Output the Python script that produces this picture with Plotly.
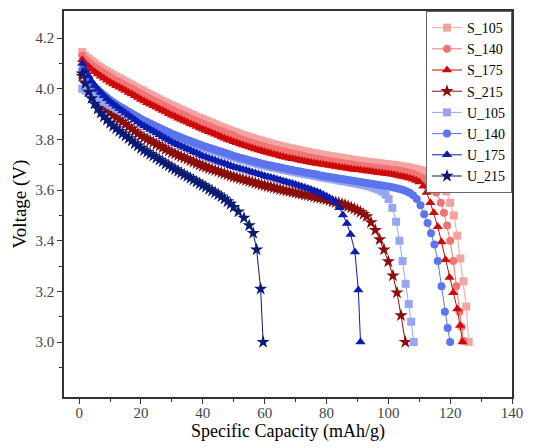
import plotly.graph_objects as go

# ---------------- data ----------------
# shared sampling grid of specific capacity (mAh/g) for the plateau part
cap_grid = [1,2,3,4,5,6,7,8,9,10,11,12,13,14,15,16,17,18,19,20,21,22,23,24,25,26,27,28,29,30,
            31,32,33,34,35,36,37,38,39,40,41,42,43,44,45,46,47,48,49,50,51,52,53,54,55,56,57,58,59,60,
            61,62,63,64,65,66,67,68,69,70,71,72,73,74,75,76,77,78,79,80,81,82,83,84,85,86,87,88,89,90,
            91,92,93,94,95,96,97,98,99,100,101,102,103,104,105,106,107,108,109,110,111,112,113,114,115,116]

s105_v = [4.145,4.130,4.120,4.110,4.101,4.092,4.084,4.076,4.069,4.062,4.055,4.048,4.042,4.035,4.029,4.022,4.016,4.009,4.002,3.996,
          3.990,3.983,3.977,3.971,3.965,3.958,3.952,3.946,3.940,3.934,3.929,3.923,3.918,3.912,3.907,3.901,3.896,3.890,3.885,3.880,
          3.875,3.870,3.865,3.860,3.855,3.850,3.845,3.840,3.836,3.831,3.827,3.822,3.818,3.814,3.810,3.806,3.802,3.798,3.795,3.791,
          3.788,3.784,3.781,3.778,3.775,3.772,3.769,3.766,3.764,3.761,3.758,3.756,3.753,3.751,3.748,3.746,3.744,3.741,3.739,3.737,
          3.735,3.733,3.731,3.729,3.727,3.725,3.723,3.721,3.719,3.717,3.716,3.714,3.712,3.711,3.709,3.708,3.706,3.705,3.703,3.702,
          3.700,3.699,3.697,3.695,3.693,3.691,3.689,3.686,3.683,3.680,3.677,3.673,3.669,3.664,3.658,3.650]
s105_tail_x = [117.5,118.8,120,121.2,122.3,123.3,124.3,125.2,126]
s105_tail_v = [3.630,3.595,3.550,3.500,3.420,3.330,3.240,3.140,3.000]

s140_v = [4.130,4.115,4.105,4.095,4.086,4.077,4.069,4.061,4.054,4.047,4.039,4.032,4.026,4.019,4.013,4.006,4.000,3.993,3.986,3.980,
          3.973,3.966,3.960,3.954,3.948,3.941,3.935,3.929,3.923,3.917,3.911,3.905,3.900,3.894,3.889,3.883,3.878,3.872,3.867,3.862,
          3.857,3.852,3.847,3.842,3.837,3.832,3.827,3.822,3.818,3.813,3.807,3.802,3.798,3.794,3.790,3.786,3.782,3.778,3.775,3.771,
          3.768,3.764,3.761,3.758,3.755,3.752,3.749,3.746,3.744,3.741,3.738,3.736,3.733,3.731,3.728,3.726,3.724,3.721,3.719,3.717,
          3.715,3.713,3.711,3.709,3.707,3.705,3.703,3.701,3.699,3.697,3.696,3.694,3.692,3.691,3.689,3.688,3.686,3.685,3.683,3.682,
          3.680,3.679,3.677,3.675,3.673,3.670,3.667,3.663,3.659,3.654,3.648,3.640,3.629,3.615]
s140_tail_x = [115.5,117,118,119,120,121,122,123,123.7,124.3]
s140_tail_v = [3.590,3.550,3.510,3.460,3.400,3.320,3.220,3.120,3.060,3.005]

s175_v = [4.115,4.099,4.088,4.077,4.067,4.058,4.049,4.041,4.034,4.026,4.019,4.012,4.006,3.999,3.993,3.985,3.979,3.972,3.965,3.958,
          3.952,3.945,3.939,3.933,3.927,3.920,3.914,3.908,3.901,3.895,3.890,3.884,3.879,3.873,3.868,3.862,3.857,3.851,3.845,3.840,
          3.835,3.830,3.825,3.820,3.815,3.810,3.805,3.800,3.796,3.791,3.787,3.782,3.778,3.774,3.770,3.766,3.762,3.758,3.755,3.751,
          3.748,3.744,3.741,3.738,3.735,3.732,3.729,3.726,3.724,3.722,3.719,3.717,3.714,3.712,3.709,3.707,3.705,3.703,3.701,3.699,
          3.697,3.695,3.693,3.691,3.689,3.687,3.685,3.683,3.681,3.680,3.679,3.677,3.675,3.674,3.672,3.670,3.668,3.667,3.665,3.664,
          3.662,3.660,3.658,3.655,3.653,3.650,3.647,3.643,3.638,3.632]
s175_tail_x = [111.3,112.4,113.6,114.7,116,117.2,118.5,119.8,121,122.3,123.2,124]
s175_tail_v = [3.615,3.590,3.550,3.510,3.455,3.395,3.325,3.255,3.195,3.130,3.065,3.000]

s215_v = [4.050,4.025,4.004,3.985,3.969,3.955,3.942,3.929,3.917,3.906,3.896,3.887,3.878,3.869,3.860,3.850,3.841,3.832,3.823,3.814,
          3.807,3.801,3.794,3.788,3.781,3.774,3.768,3.761,3.755,3.748,3.743,3.737,3.732,3.727,3.722,3.716,3.711,3.706,3.700,3.695,
          3.691,3.686,3.682,3.678,3.674,3.669,3.665,3.661,3.656,3.652,3.649,3.645,3.642,3.638,3.635,3.632,3.628,3.625,3.621,3.618,
          3.615,3.612,3.609,3.606,3.603,3.600,3.597,3.595,3.592,3.589,3.586,3.584,3.581,3.579,3.576,3.573,3.570,3.568,3.565,3.562,
          3.559,3.555,3.552,3.549,3.545,3.541,3.536,3.531,3.526,3.520,3.513,3.505,3.496]
s215_tail_x = [94.4,95.8,97.2,98.6,100.0,101.5,102.8,104.1,105.5]
s215_tail_v = [3.472,3.442,3.405,3.365,3.318,3.262,3.195,3.105,3.000]

u105_v = [4.000,3.993,3.986,3.978,3.970,3.963,3.956,3.949,3.942,3.935,3.929,3.922,3.916,3.910,3.904,3.897,3.891,3.885,3.878,3.872,
          3.866,3.861,3.855,3.850,3.845,3.839,3.833,3.828,3.822,3.816,3.811,3.807,3.802,3.797,3.792,3.788,3.783,3.778,3.774,3.769,
          3.765,3.761,3.757,3.753,3.749,3.745,3.741,3.737,3.733,3.729,3.726,3.722,3.719,3.716,3.712,3.709,3.706,3.702,3.699,3.696,
          3.693,3.691,3.688,3.686,3.683,3.680,3.678,3.675,3.673,3.670,3.668,3.666,3.663,3.661,3.659,3.656,3.654,3.652,3.649,3.647,
          3.645,3.643,3.641,3.638,3.636,3.634,3.632,3.629,3.627,3.625,3.622,3.620,3.617,3.614,3.610,3.606,3.601,3.594]
u105_tail_x = [99.1,100.1,101.3,102.5,103.6,104.6,105.6,106.6,107.4,108.2]
u105_tail_v = [3.582,3.565,3.530,3.475,3.400,3.320,3.230,3.150,3.080,3.000]

u140_v = [4.075,4.055,4.037,4.021,4.008,3.996,3.985,3.975,3.965,3.956,3.947,3.939,3.931,3.924,3.917,3.909,3.902,3.895,3.888,3.881,
          3.875,3.869,3.863,3.857,3.851,3.845,3.839,3.833,3.828,3.822,3.817,3.812,3.808,3.803,3.798,3.794,3.789,3.784,3.780,3.775,
          3.771,3.767,3.763,3.759,3.755,3.751,3.747,3.743,3.739,3.735,3.732,3.728,3.725,3.722,3.718,3.715,3.712,3.708,3.705,3.702,
          3.699,3.697,3.694,3.692,3.689,3.686,3.684,3.681,3.679,3.676,3.674,3.672,3.669,3.667,3.665,3.663,3.661,3.658,3.656,3.654,
          3.652,3.650,3.648,3.646,3.644,3.642,3.640,3.638,3.636,3.634,3.632,3.630,3.628,3.626,3.624,3.622,3.620,3.618,3.616,3.614,
          3.612,3.609,3.606,3.603,3.599,3.594,3.588,3.580]
u140_tail_x = [109.2,110.4,111.6,112.7,113.8,114.9,116,117.2,118.3,119.2,120]
u140_tail_v = [3.565,3.540,3.505,3.470,3.430,3.385,3.320,3.220,3.120,3.055,3.000]

u175_v = [4.100,4.072,4.050,4.030,4.013,3.998,3.985,3.972,3.961,3.950,3.940,3.931,3.922,3.913,3.904,3.895,3.887,3.878,3.869,3.860,
          3.853,3.846,3.839,3.832,3.825,3.818,3.811,3.804,3.797,3.790,3.784,3.779,3.773,3.768,3.762,3.757,3.751,3.746,3.740,3.735,
          3.731,3.726,3.722,3.718,3.713,3.709,3.705,3.701,3.696,3.692,3.688,3.685,3.681,3.678,3.674,3.670,3.667,3.663,3.660,3.656,
          3.653,3.650,3.647,3.643,3.640,3.636,3.633,3.629,3.626,3.622,3.618,3.614,3.610,3.606,3.602,3.597,3.593,3.588,3.582,3.576,
          3.569,3.561,3.552]
u175_tail_x = [84.2,85.3,86.6,87.8,89.2,90.3,91.0]
u175_tail_v = [3.530,3.502,3.468,3.425,3.355,3.205,3.000]

u215_v = [4.060,4.020,3.988,3.962,3.940,3.921,3.905,3.890,3.877,3.864,3.853,3.843,3.833,3.823,3.814,3.804,3.794,3.784,3.775,3.765,
          3.757,3.750,3.742,3.735,3.727,3.719,3.712,3.704,3.697,3.689,3.682,3.675,3.668,3.661,3.654,3.647,3.640,3.633,3.626,3.619,
          3.612,3.604,3.597,3.590,3.582,3.574,3.565,3.555,3.545,3.533]
u215_tail_x = [51.5,53.3,55.0,56.3,57.4,58.7,59.5]
u215_tail_v = [3.515,3.490,3.460,3.430,3.365,3.210,3.000]

names = ["S_105", "S_140", "S_175", "S_215", "U_105", "U_140", "U_175", "U_215"]
plateaus = [s105_v, s140_v, s175_v, s215_v, u105_v, u140_v, u175_v, u215_v]
tails_x = [s105_tail_x, s140_tail_x, s175_tail_x, s215_tail_x, u105_tail_x, u140_tail_x, u175_tail_x, u215_tail_x]
tails_v = [s105_tail_v, s140_tail_v, s175_tail_v, s215_tail_v, u105_tail_v, u140_tail_v, u175_tail_v, u215_tail_v]

colors = ["#F4A3A3", "#F07474", "#CC0A0A", "#8B0C0C", "#98A6F2", "#5C74EE", "#0A1EAE", "#0B1A72"]
symbols = ["square", "circle", "triangle-up", "star", "square", "circle", "triangle-up", "star"]
sizes = [8, 8, 9, 10, 8, 8, 9, 10]

fig = go.Figure()
for n, pv, tx, tv, c, s, sz in zip(names, plateaus, tails_x, tails_v, colors, symbols, sizes):
    x = cap_grid[:len(pv)] + tx
    v = pv + tv
    fig.add_trace(go.Scatter(
        x=x, y=v, name=n, mode="lines+markers",
        line=dict(color=c, width=1),
        marker=dict(symbol=s, size=sz, color=c, line=dict(width=0)),
    ))

FONT = "Times New Roman"
fig.update_layout(
    width=537, height=448,
    margin=dict(l=64, r=25, t=11, b=51, autoexpand=False),
    paper_bgcolor="white", plot_bgcolor="white",
    font=dict(family=FONT, size=15, color="black"),
    showlegend=True,
    legend=dict(
        x=1, xanchor="right", y=1, yanchor="top",
        bgcolor="white", bordercolor="#666666", borderwidth=1,
        font=dict(family=FONT, size=14, color="black"),
        tracegroupgap=0, itemwidth=30,
    ),
    annotations=[dict(
        text="Comparing the capacity", xref="paper", yref="paper",
        x=0.29, y=1, xanchor="center", yanchor="bottom", yshift=11,
        showarrow=False, font=dict(family=FONT, size=44, color="black"),
    )],
)
fig.update_xaxes(
    range=[-4.9, 140], tickvals=[0, 20, 40, 60, 80, 100, 120, 140],
    ticks="outside", ticklen=5, tickwidth=1, tickcolor="#333",
    minor=dict(tickvals=[10, 30, 50, 70, 90, 110, 130], ticks="outside", ticklen=3, tickcolor="#333"),
    showline=True, linecolor="#333", linewidth=1.5, mirror=True,
    showgrid=False, zeroline=False, automargin=False, ticklabelstandoff=-4,
    tickfont=dict(family=FONT, size=15, color="#444"),
    title=dict(text="Specific Capacity (mAh/g)", font=dict(family=FONT, size=18, color="black"), standoff=2),
)
fig.update_yaxes(
    range=[2.783, 4.307], tickvals=[3.0, 3.2, 3.4, 3.6, 3.8, 4.0, 4.2],
    ticktext=["3.0", "3.2", "3.4", "3.6", "3.8", "4.0", "4.2"],
    ticks="outside", ticklen=5, tickwidth=1, tickcolor="#333",
    minor=dict(tickvals=[2.9, 3.1, 3.3, 3.5, 3.7, 3.9, 4.1], ticks="outside", ticklen=3, tickcolor="#333"),
    showline=True, linecolor="#333", linewidth=1.5, mirror=True,
    showgrid=False, zeroline=False, automargin=False,
    tickfont=dict(family=FONT, size=15, color="#444"),
    title=dict(text="Voltage (V)", font=dict(family=FONT, size=19, color="black"), standoff=4),
)

fig.write_html("out.html", config={"displayModeBar": False},
               post_script="document.body.style.margin='0';")
